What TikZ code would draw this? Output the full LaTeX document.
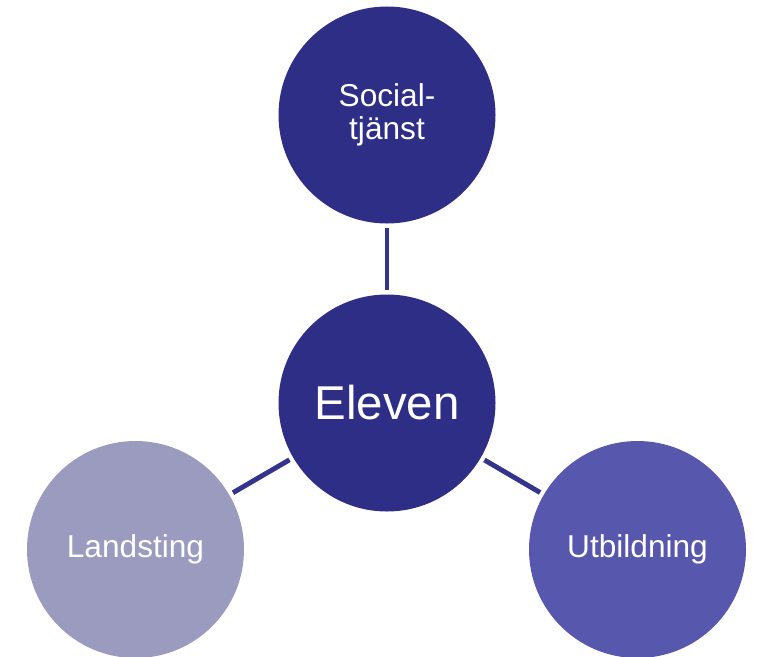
\documentclass[tikz,border=0pt]{standalone}
\usepackage{fontspec}
\setmainfont{Liberation Sans}
\usepackage{xcolor}
\usetikzlibrary{positioning}
\definecolor{darkblob}{RGB}{46,46,135}
\definecolor{midblob}{RGB}{88,87,174}
\definecolor{paleblob}{RGB}{155,155,192}
\definecolor{linkline}{RGB}{52,52,140}
\begin{document}
\begin{tikzpicture}[
  blob/.style={circle,minimum size=4.34cm,inner sep=0pt,text=white,align=center,font=\fontsize{18}{19}\selectfont},
  link/.style={linkline,line width=2.8pt,shorten <=0.08cm,shorten >=0.08cm}]
\clip (0,0) rectangle (15.16,13.12);
\node[blob,fill=darkblob,font=\fontsize{27}{28}\selectfont] (eleven) at (7.74,5.06) {Eleven};
\node[blob,fill=darkblob] (social) at (7.74,10.82) {Social-\\tjänst};
\node[blob,fill=paleblob] (landsting) at (2.71,2.13) {Landsting};
\node[blob,fill=midblob] (utbildning) at (12.75,2.13) {Utbildning};
\draw[link] (social) -- (eleven);
\draw[link] (eleven) -- (landsting);
\draw[link] (eleven) -- (utbildning);
\end{tikzpicture}
\end{document}
